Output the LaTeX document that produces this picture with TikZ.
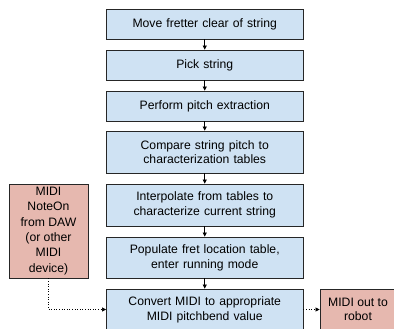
\documentclass[tikz,border=0pt]{standalone}
\usepackage{fontspec}
\setmainfont{Liberation Sans}
\usetikzlibrary{arrows.meta}
\definecolor{stepblue}{HTML}{CFE2F3}
\definecolor{midired}{HTML}{E6B8AF}
\tikzstyle{task} = [draw=black!85, line width=0.8pt, fill=stepblue, minimum width=196.5pt, text width=190pt, align=center, inner sep=0pt]
\tikzstyle{midi} = [draw=black!85, line width=0.8pt, fill=midired, align=center, inner sep=0pt]
\tikzstyle{flow} = [line width=0.6pt, -{Triangle[length=4pt,width=4pt]}]

\begin{document}
\begin{tikzpicture}[x=1pt, y=-1pt, font=\fontsize{12.2}{14.7}\selectfont]
  \useasboundingbox (0,0) rectangle (394,329);
  \node (a) at (204.75,24) [task, minimum height=30pt] {Move fretter clear of string};
  \node (b) at (204.75,65) [task, minimum height=30pt] {Pick string};
  \node (c) at (204.75,106) [task, minimum height=30pt] {Perform pitch extraction};
  \node (d) at (204.75,152) [task, minimum height=42pt] {Compare string pitch to\\characterization tables};
  \node (e) at (204.75,205) [task, minimum height=42pt] {Interpolate from tables to\\characterize current string};
  \node (f) at (204.75,257.5) [task, minimum height=41pt] {Populate fret location table,\\enter running mode};
  \node (g) at (204.75,309.5) [task, minimum height=41pt] {Convert MIDI to appropriate\\MIDI pitchbend value};
  \node (src) at (48.5,231) [midi, minimum width=79pt, minimum height=94pt, font=\fontsize{12.2}{15.3}\selectfont] {MIDI\\NoteOn\\from DAW\\(or other\\MIDI\\device)};
  \node (out) at (358,309.5) [midi, minimum width=76pt, minimum height=41pt] {MIDI out to\\robot};
  \draw [flow] (a) to (b);
  \draw [flow] (b) to (c);
  \draw [flow] (c) to (d);
  \draw [flow] (d) to (e);
  \draw [flow] (e) to (f);
  \draw [flow] (f) to (g);
  \draw [flow, dotted] (src.south) |- (g.west);
  \draw [flow, dotted] (g) to (out);
\end{tikzpicture}
\end{document}
